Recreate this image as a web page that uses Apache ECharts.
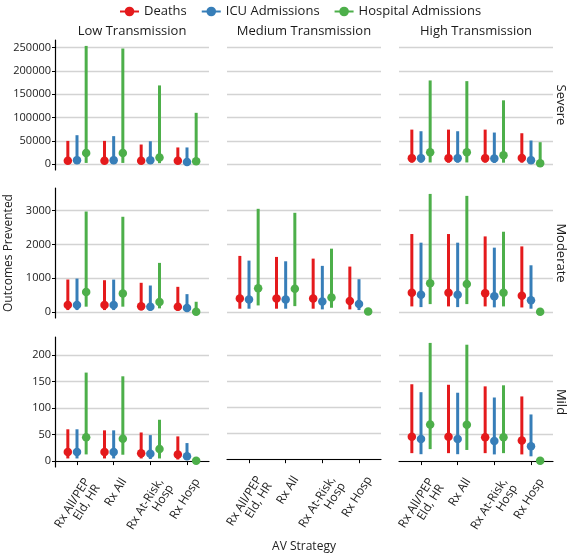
<!DOCTYPE html>
<html><head><meta charset="utf-8">
<script src="https://cdn.jsdelivr.net/npm/echarts@6/dist/echarts.min.js"></script>
<style>html,body{margin:0;padding:0;background:#fff}#c{width:567px;height:554px}</style>
</head><body><div id="c"></div>
<script>
const strategies = ['Rx All/PEP\nEld, HR', 'Rx All', 'Rx At-Risk,\nHosp', 'Rx Hosp'];
const transmissions = ['Low Transmission', 'Medium Transmission', 'High Transmission'];
const severities = ['Severe', 'Moderate', 'Mild'];
const seriesNames = ['Deaths', 'ICU Admissions', 'Hospital Admissions'];
const colors = ['#E41A1C', '#377EB8', '#4DAF4A'];

const severeTicks = [0, 50000, 100000, 150000, 200000, 250000];
const moderateTicks = [0, 1000, 2000, 3000];
const mildTicks = [0, 50, 100, 150, 200];

// each entry: [point estimate, lower, upper] per strategy
const lowSevereDeaths = [[7000, 2500, 49800], [7000, 2500, 49800], [7000, 2000, 42000], [7000, 1800, 35700]];
const lowSevereICU = [[8500, 2500, 62000], [8500, 2500, 60000], [8000, 2000, 49000], [4300, 1500, 35700]];
const lowSevereHosp = [[24000, 2500, 253600], [24000, 2500, 248000], [14300, 2000, 168800], [6000, 500, 110000]];

const highSevereDeaths = [[12800, 3000, 74000], [12800, 3000, 74000], [12800, 3000, 74000], [13000, 3000, 66200]];
const highSevereICU = [[12800, 3000, 70500], [12800, 3000, 70500], [12000, 2500, 67700], [8500, 2000, 50600]];
const highSevereHosp = [[25600, 3500, 179500], [25600, 3500, 178000], [19200, 3000, 136800], [2000, 0, 47000]];

const lowModerateDeaths = [[206, 60, 962], [206, 60, 941], [176, 50, 865], [160, 40, 746]];
const lowModerateICU = [[206, 60, 990], [206, 60, 960], [160, 45, 785], [118, 30, 530]];
const lowModerateHosp = [[590, 160, 2970], [550, 160, 2815], [295, 110, 1453], [10, 0, 305]];

const mediumModerateDeaths = [[403, 100, 1659], [403, 100, 1629], [403, 100, 1579], [324, 80, 1344]];
const mediumModerateICU = [[373, 100, 1520], [373, 100, 1500], [314, 80, 1365], [236, 60, 971]];
const mediumModerateHosp = [[706, 197, 3050], [688, 176, 2932], [432, 128, 1873], [20, 0, 40]];

const highModerateDeaths = [[570, 168, 2305], [570, 168, 2305], [560, 168, 2235], [482, 137, 1940]];
const highModerateICU = [[512, 147, 2050], [512, 147, 2050], [470, 140, 1903], [353, 100, 1382]];
const highModerateHosp = [[853, 236, 3490], [830, 236, 3432], [570, 168, 2373], [12, 0, 30]];

const lowMildDeaths = [[17, 5, 60], [17, 5, 58], [15, 5, 54], [12.6, 3, 46.6]];
const lowMildICU = [[17, 5, 60], [17, 5, 58], [14, 4, 49], [9, 2, 34]];
const lowMildHosp = [[45, 12.6, 167], [42, 12, 160], [22.6, 5, 78], [0.5, 0, 2]];

const highMildDeaths = [[46, 15, 145], [46, 15, 144], [45, 15, 141], [39, 12.6, 122]];
const highMildICU = [[41.5, 13, 130], [41.5, 13, 129], [38, 12.6, 120], [28, 9, 88]];
const highMildHosp = [[69, 22.6, 223], [68.5, 21, 219.6], [45, 15, 143], [0.5, 0, 2]];

const panels = [
  [[lowSevereDeaths, lowSevereICU, lowSevereHosp], null, [highSevereDeaths, highSevereICU, highSevereHosp]],
  [[lowModerateDeaths, lowModerateICU, lowModerateHosp], [mediumModerateDeaths, mediumModerateICU, mediumModerateHosp], [highModerateDeaths, highModerateICU, highModerateHosp]],
  [[lowMildDeaths, lowMildICU, lowMildHosp], null, [highMildDeaths, highMildICU, highMildHosp]]
];
const rowTicks = [severeTicks, moderateTicks, mildTicks];

const FONT = '"Open Sans", "DejaVu Sans", sans-serif';
const colLeft = [55, 227, 399], colW = 154, rowTop = [40, 188, 337], rowH = 130;
const dodge = [-0.25, 0, 0.25];

// y ranges per row (ggplot-like 5% expansion)
const yRange = panels.map(row => {
  let lo = 0, hi = -Infinity;
  row.forEach(p => { if (p) p.forEach(s => s.forEach(d => { lo = Math.min(lo, d[1], d[0]); hi = Math.max(hi, d[2], d[0]); })); });
  const span = hi - lo;
  return [lo - 0.05 * span, hi + 0.05 * span];
});

const grid = [], xAxis = [], yAxis = [], series = [];
seriesNames.forEach((n, k) => {
  series.push({ type: 'line', name: n, data: [], xAxisIndex: 0, yAxisIndex: 0, symbol: 'circle', symbolSize: 8,
    itemStyle: { color: colors[k] }, lineStyle: { color: colors[k], width: 3 } });
});

let gi = 0;
for (let r = 0; r < 3; r++) {
  for (let c = 0; c < 3; c++) {
    grid.push({ left: colLeft[c], top: rowTop[r], width: colW, height: rowH, containLabel: false });
    xAxis.push({
      gridIndex: gi, type: 'value', min: 0.4, max: 4.6,
      axisLine: { show: r === 2, lineStyle: { color: '#000', width: 1.2 } },
      axisTick: { show: r === 2, customValues: [1, 2, 3, 4], length: 4, lineStyle: { color: '#000' } },
      axisLabel: { show: r === 2, customValues: [1, 2, 3, 4], formatter: v => strategies[Math.round(v) - 1],
        rotate: 58, fontSize: 12, color: '#222', fontFamily: FONT, margin: 6, lineHeight: 12,
        verticalAlign: 'top', padding: [6, 0, 0, 0], hideOverlap: false },
      splitLine: { show: false },
      name: (r === 2 && c === 1) ? 'AV Strategy' : '', nameLocation: 'middle', nameGap: 76,
      nameTextStyle: { fontSize: 12, color: '#222', fontFamily: FONT }
    });
    yAxis.push({
      gridIndex: gi, type: 'value', min: yRange[r][0], max: yRange[r][1],
      axisLine: { show: c === 0, lineStyle: { color: '#000', width: 1.2 } },
      axisTick: { show: c === 0, customValues: rowTicks[r], length: 3, lineStyle: { color: '#000' } },
      axisLabel: { show: c === 0, customValues: rowTicks[r], formatter: v => String(v), fontSize: 11, color: '#222', fontFamily: FONT, margin: 4 },
      splitLine: { show: true, lineStyle: { color: '#d3d3d3', width: 1.3 } },
      name: (r === 1 && c === 0) ? 'Outcomes Prevented' : '', nameLocation: 'middle', nameGap: 40,
      nameTextStyle: { fontSize: 12, color: '#222', fontFamily: FONT }
    });
    const p = panels[r][c];
    if (p) {
      p.forEach((s, k) => {
        const bars = s.map((d, i) => [i + 1 + dodge[k], d[1], d[2]]);
        const pts = s.map((d, i) => [i + 1 + dodge[k], d[0]]);
        series.push({
          type: 'custom', name: seriesNames[k], xAxisIndex: gi, yAxisIndex: gi, data: bars, z: 3,
          encode: { x: 0, y: [1, 2] },
          renderItem: (params, api) => {
            const a = api.coord([api.value(0), api.value(1)]);
            const b = api.coord([api.value(0), api.value(2)]);
            return { type: 'line', shape: { x1: a[0], y1: a[1], x2: b[0], y2: b[1] },
              style: { stroke: colors[k], lineWidth: 3 } };
          },
          itemStyle: { color: colors[k] }, silent: true
        });
        series.push({
          type: 'scatter', name: seriesNames[k], xAxisIndex: gi, yAxisIndex: gi, data: pts, z: 4,
          symbol: 'circle', symbolSize: 8.5, itemStyle: { color: colors[k], opacity: 1 }, silent: true
        });
      });
    }
    gi++;
  }
}

const graphic = [];
transmissions.forEach((t, c) => {
  graphic.push({ type: 'text', x: colLeft[c] + colW / 2, y: 31,
    style: { text: t, font: '13px ' + FONT, fill: '#1a1a1a', align: 'center', verticalAlign: 'middle' } });
});
severities.forEach((s, r) => {
  graphic.push({ type: 'text', x: 561, y: rowTop[r] + rowH / 2, rotation: -Math.PI / 2,
    style: { text: s, font: '13px ' + FONT, fill: '#1a1a1a', align: 'center', verticalAlign: 'middle' } });
});

const chart = echarts.init(document.getElementById('c'), null, { renderer: 'canvas' });
chart.setOption({
  animation: false,
  backgroundColor: '#fff',
  legend: { top: 0, left: 114, data: seriesNames, itemWidth: 19, itemHeight: 12, itemGap: 14,
    textStyle: { fontSize: 13, color: '#1a1a1a', fontFamily: FONT } },
  grid, xAxis, yAxis, series, graphic
});
</script>
</body></html>
